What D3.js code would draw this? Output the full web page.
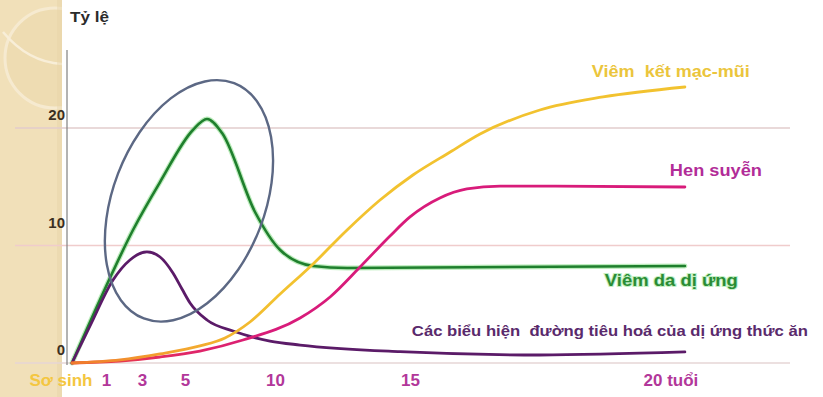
<!DOCTYPE html>
<html>
<head>
<meta charset="utf-8">
<script src="https://cdn.jsdelivr.net/npm/d3@7"></script>
<style>
  html, body { margin: 0; padding: 0; background: #ffffff; }
  svg { display: block; font-family: "Liberation Sans", Arial, sans-serif; }
  text { white-space: pre; }
</style>
</head>
<body>
<svg id="chart" width="823" height="397"></svg>
<script>
// Age axis (years) and its tick labels
const xTickValues = [0, 1, 3, 5, 10, 15, 20];
const xTickLabels = ["Sơ sinh", "1", "3", "5", "10", "15", "20 tuổi"];
// Rate axis
const yTickValues = [0, 10, 20];
const yTitle = "Tỷ lệ";

// Allergic rhinoconjunctivitis
const rhinitisAge   = [0, 1.78, 3.84, 5.83, 7.22, 8.61, 10.19, 11.41, 12.67, 13.89, 15.06, 15.82, 16.43, 17.65, 18.94, 20.61];
const rhinitisValue = [0, 0.26, 0.77, 1.45, 2.13, 3.49, 5.87, 8.43, 11.32, 13.87, 16.0, 17.96, 19.49, 21.53, 22.64, 23.49];
// Asthma
const asthmaAge   = [0, 1.78, 3.84, 5.83, 8.22, 10.93, 12.04, 13.15, 14.26, 15.0, 15.61, 16.16, 16.84, 17.65, 20.61];
const asthmaValue = [0, 0.17, 0.51, 1.02, 1.96, 3.83, 5.62, 8.17, 10.81, 12.43, 14.04, 14.81, 15.06, 15.06, 14.98];
// Atopic dermatitis
const eczemaAge   = [0, 0.82, 2.5, 3.84, 5.44, 6.22, 7.06, 8.89, 10.19, 11.41, 12.67, 20.61];
const eczemaValue = [0, 5.36, 11.32, 15.4, 19.83, 20.77, 19.57, 12.85, 9.62, 8.26, 8.09, 8.26];
// Gastrointestinal food allergy
const foodAge   = [0, 0.53, 1.39, 2.33, 3.23, 3.84, 4.44, 4.86, 5.28, 6.22, 7.67, 9.72, 10.93, 14.63, 17.65, 20.61];
const foodValue = [0, 3.15, 7.06, 8.77, 9.45, 9.02, 7.66, 6.3, 5.11, 3.66, 2.72, 1.87, 1.53, 0.96, 0.68, 0.94];

const seriesNames = [
  "Viêm  kết mạc-mũi",
  "Hen suyễn",
  "Viêm da dị ứng",
  "Các biểu hiện  đường tiêu hoá của dị ứng thức ăn"
];

// Highlighted early-childhood region (centre in data units)
const highlightAge = 5.22;
const highlightValue = 13.8;

const svg = d3.select("#chart");
const defs = svg.append("defs");

// Age is spread unevenly along the axis: early years get more room
const x = d3.scaleLinear()
  .domain(xTickValues)
  .range([72, 106, 142, 185, 275, 410, 655]);
const y = d3.scaleLinear().domain([0, 20]).range([363, 128]);

// Decorative side band
defs.append("clipPath").attr("id", "band")
  .append("rect").attr("x", 0).attr("y", 0).attr("width", 62).attr("height", 397);
const band = svg.append("g").attr("clip-path", "url(#band)");
band.append("rect").attr("x", 0).attr("y", 0).attr("width", 62).attr("height", 397)
  .attr("fill", "#f1e0b9");
band.append("circle").attr("cx", 55).attr("cy", 58).attr("r", 50)
  .attr("fill", "#eedcb2").attr("stroke", "#f6ead0").attr("stroke-width", 3);
band.append("path").attr("d", "M3,32 Q28,62 62,64")
  .attr("fill", "none").attr("stroke", "#f8eed8").attr("stroke-width", 2.5);
band.append("rect").attr("x", 57).attr("y", 0).attr("width", 5).attr("height", 397)
  .attr("fill", "#e6d2a6").attr("opacity", 0.4);

// Horizontal guide lines
const gridColor = { 0: "#e6d6d6", 10: "#f0cccc", 20: "#e2cccc" };
svg.append("g").selectAll("line").data(yTickValues).join("line")
  .attr("x1", 15).attr("x2", 790)
  .attr("y1", d => y(d)).attr("y2", d => y(d))
  .attr("stroke", d => gridColor[d]).attr("stroke-width", 1.5);

// Vertical axis line
svg.append("line").attr("x1", 67).attr("x2", 67).attr("y1", 50).attr("y2", 365)
  .attr("stroke", "#808080").attr("stroke-width", 1.2);

// Y tick labels and title
svg.append("g").selectAll("text").data(yTickValues).join("text")
  .attr("x", 65).attr("y", d => y(d) - (d === 10 ? 18 : 8))
  .attr("text-anchor", "end")
  .attr("font-size", 15).attr("font-weight", "bold").attr("fill", "#3b2f22")
  .text(d => d);
svg.append("text").attr("x", 70).attr("y", 22)
  .attr("font-size", 15).attr("font-weight", "bold").attr("fill", "#2b2b2b")
  .attr("textLength", 39).attr("lengthAdjust", "spacingAndGlyphs")
  .text(yTitle);

// X tick labels
const xAxis = d3.axisBottom(x)
  .tickValues(xTickValues)
  .tickFormat((d, i) => xTickLabels[i])
  .tickSize(0).tickPadding(0);
const gx = svg.append("g").attr("transform", "translate(0,372)").call(xAxis);
gx.select(".domain").remove();
gx.selectAll("text")
  .attr("dy", null).attr("y", 14)
  .attr("font-family", "'Liberation Sans', Arial, sans-serif")
  .attr("font-size", 17).attr("font-weight", "bold")
  .attr("fill", (d, i) => i === 0 ? "#f4c640" : "#b2379a")
  .attr("text-anchor", (d, i) => i === 0 ? "end" : i === xTickValues.length - 1 ? "start" : "middle")
  .attr("x", (d, i) => i === 0 ? 20 : i === xTickValues.length - 1 ? -12 : 0);

// Gradients for the lines that start orange near birth
function gradient(id, stops) {
  const g = defs.append("linearGradient").attr("id", id)
    .attr("gradientUnits", "userSpaceOnUse")
    .attr("x1", x(0)).attr("x2", x(10)).attr("y1", 0).attr("y2", 0);
  stops.forEach(s => g.append("stop").attr("offset", s[0]).attr("stop-color", s[1]));
}
gradient("gradRhinitis", [[0, "#ef7a2c"], [0.45, "#f3a02f"], [1, "#f2c22f"]]);
gradient("gradAsthma", [[0, "#ec4a34"], [0.45, "#e22a62"], [1, "#d81b7a"]]);

const line = d3.line()
  .x(d => x(d[0])).y(d => y(d[1]))
  .curve(d3.curveMonotoneX);
const pts = (a, v) => a.map((d, i) => [d, v[i]]);

const curves = svg.append("g").attr("fill", "none").attr("stroke-linecap", "round");

// Atopic dermatitis: soft glow under a dark green line
curves.append("path").attr("d", line(pts(eczemaAge, eczemaValue)))
  .attr("stroke", "#8fe08f").attr("stroke-width", 5).attr("opacity", 0.6);
curves.append("path").attr("d", line(pts(eczemaAge, eczemaValue)))
  .attr("stroke", "#1f7f2d").attr("stroke-width", 2.6);

curves.append("path").attr("d", line(pts(foodAge, foodValue)))
  .attr("stroke", "#5b1b68").attr("stroke-width", 2.8);

curves.append("path").attr("d", line(pts(asthmaAge, asthmaValue)))
  .attr("stroke", "url(#gradAsthma)").attr("stroke-width", 2.8);

curves.append("path").attr("d", line(pts(rhinitisAge, rhinitisValue)))
  .attr("stroke", "url(#gradRhinitis)").attr("stroke-width", 2.8);

// Ellipse around the early peak
svg.append("ellipse")
  .attr("transform", `translate(${x(highlightAge)},${y(highlightValue)}) rotate(-69)`)
  .attr("rx", 126).attr("ry", 76)
  .attr("fill", "none").attr("stroke", "#5c6884").attr("stroke-width", 2.4);

// Series labels, placed relative to the line ends
const endX = x(20.61);
const labels = svg.append("g").attr("font-weight", "bold");
labels.append("text")
  .attr("x", endX - 93).attr("y", y(23.49) - 10)
  .attr("textLength", 158).attr("lengthAdjust", "spacingAndGlyphs")
  .attr("font-size", 16).attr("fill", "#ebc53c")
  .text(seriesNames[0]);
labels.append("text")
  .attr("x", endX - 15).attr("y", y(14.98) - 11)
  .attr("textLength", 92).attr("lengthAdjust", "spacingAndGlyphs")
  .attr("font-size", 17).attr("fill", "#b22c98")
  .text(seriesNames[1]);
labels.append("text")
  .attr("x", endX - 80).attr("y", y(8.26) + 20)
  .attr("textLength", 133).attr("lengthAdjust", "spacingAndGlyphs")
  .attr("font-size", 16).attr("fill", "#2a8c35")
  .attr("stroke", "#c4f0c4").attr("stroke-width", 2).attr("paint-order", "stroke")
  .text(seriesNames[2]);
labels.append("text")
  .attr("x", endX - 273).attr("y", y(0.94) - 16)
  .attr("textLength", 396).attr("lengthAdjust", "spacingAndGlyphs")
  .attr("font-size", 15).attr("fill", "#5a2a6c")
  .text(seriesNames[3]);
</script>
</body>
</html>
